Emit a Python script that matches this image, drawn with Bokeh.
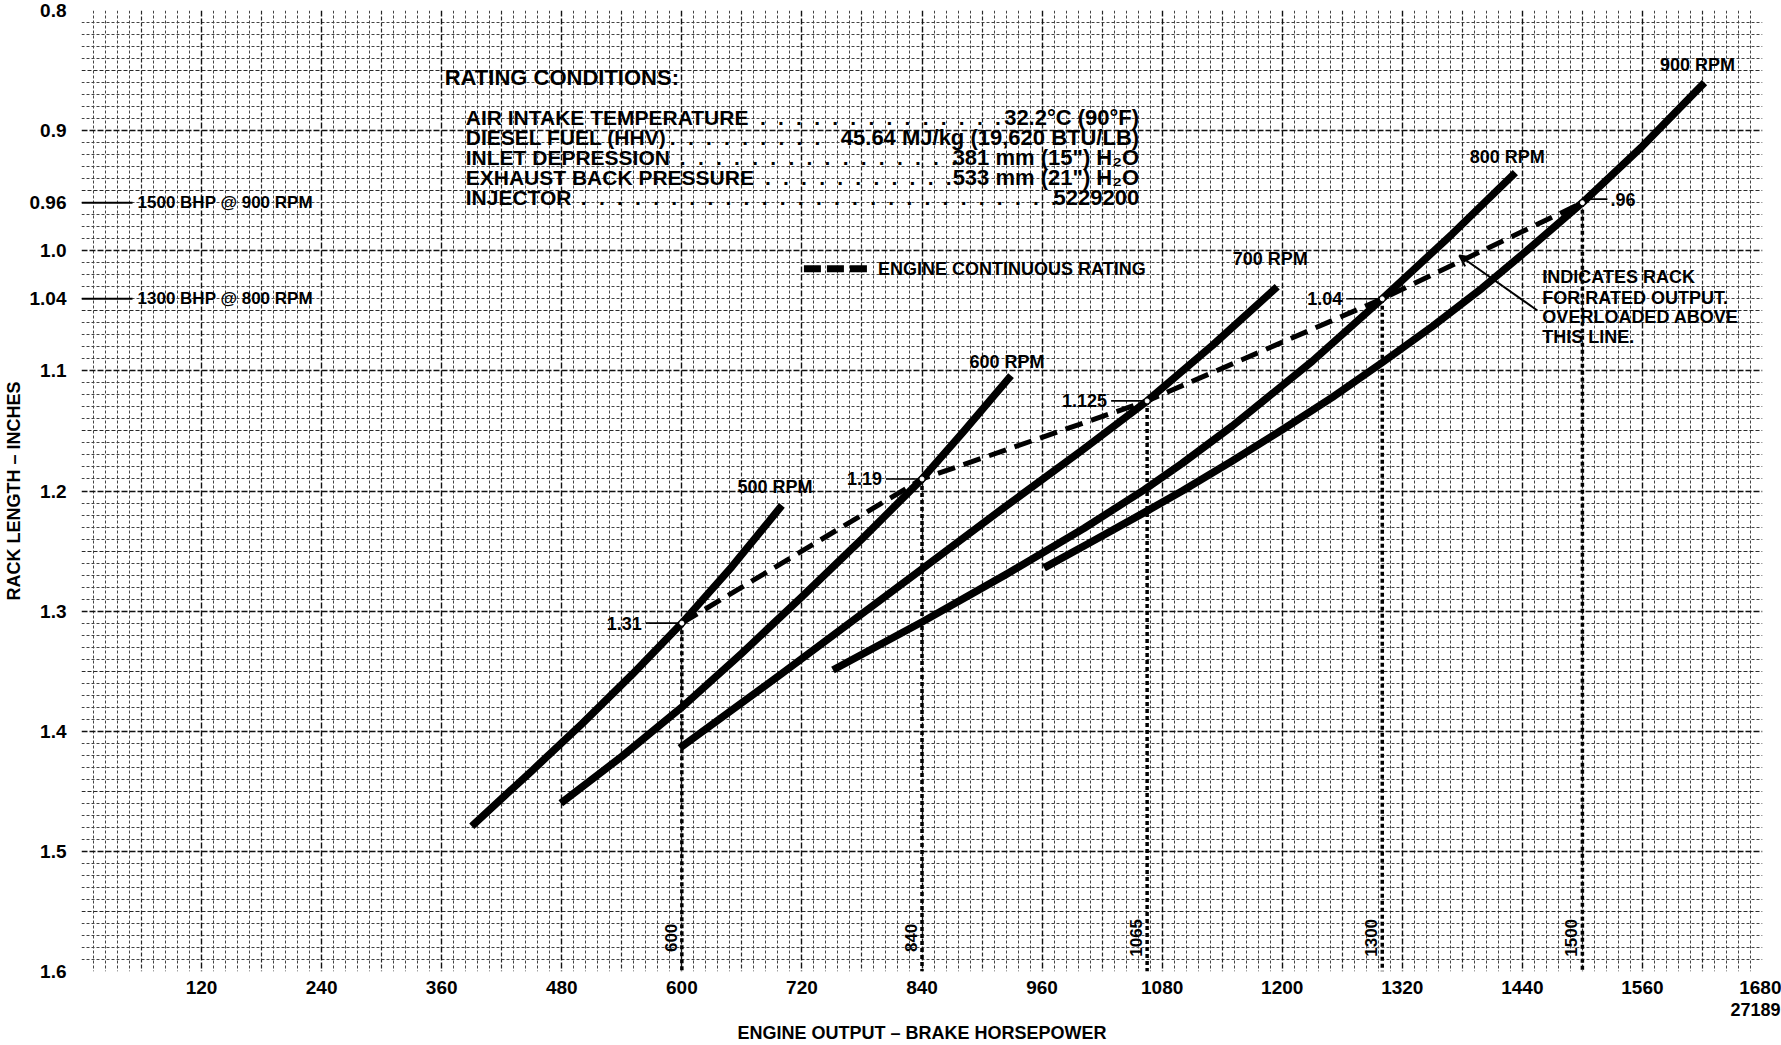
import numpy as np
from bokeh.plotting import figure
from bokeh.models import Range1d, FixedTicker, Grid, Arrow, OpenHead, Title
from bokeh.core.properties import value
from bokeh.embed import file_html
from bokeh.resources import INLINE

FONT = "Liberation Sans"

# ---------------- data ----------------
x_ticks = [120, 240, 360, 480, 600, 720, 840, 960, 1080, 1200, 1320, 1440, 1560, 1680]
y_ticks = [0.8, 0.9, 0.96, 1.0, 1.04, 1.1, 1.2, 1.3, 1.4, 1.5, 1.6]
y_tick_labels = ["0.8", "0.9", "0.96", "1.0", "1.04", "1.1", "1.2", "1.3", "1.4", "1.5", "1.6"]

rpm_names = ["500 RPM", "600 RPM", "700 RPM", "800 RPM", "900 RPM"]

hp_500 = [390, 450, 500, 550, 600, 650, 700]
rack_500 = [1.479, 1.433, 1.394, 1.353, 1.31, 1.263, 1.212]

hp_600 = [479, 540, 600, 660, 720, 780, 840, 882, 929]
rack_600 = [1.46, 1.421, 1.38, 1.335, 1.288, 1.24, 1.19, 1.15, 1.104]

hp_700 = [598, 700, 835, 920, 1000, 1065, 1130, 1195]
rack_700 = [1.414, 1.352, 1.268, 1.215, 1.166, 1.125, 1.079, 1.030]

hp_800 = [751, 840, 925, 1002, 1062, 1100, 1150, 1230, 1300, 1370, 1433]
rack_800 = [1.349, 1.309, 1.269, 1.231, 1.199, 1.177, 1.146, 1.092, 1.04, 0.986, 0.935]

hp_900 = [962, 1010, 1062, 1100, 1150, 1200, 1250, 1300, 1350, 1400, 1450, 1500, 1560, 1622]
rack_900 = [1.264, 1.242, 1.218, 1.20, 1.175, 1.149, 1.122, 1.093, 1.063, 1.031, 0.996, 0.96,
            0.913, 0.860]

rating_hp = [600, 840, 1065, 1300, 1500]
rating_rack = [1.31, 1.19, 1.125, 1.04, 0.96]
rating_rack_labels = ["1.31", "1.19", "1.125", "1.04", ".96"]
rating_hp_labels = ["600", "840", "1065", "1300", "1500"]

conditions_title = "RATING CONDITIONS:"
conditions_names = ["AIR INTAKE TEMPERATURE", "DIESEL FUEL (HHV)", "INLET DEPRESSION",
                    "EXHAUST BACK PRESSURE", "INJECTOR"]
conditions_values = ["32.2°C (90°F)", "45.64 MJ/kg (19,620 BTU/LB)", "381 mm (15\") H₂O",
                     "533 mm (21\") H₂O", "5229200"]

legend_text = "ENGINE CONTINUOUS RATING"
overload_note = ["INDICATES RACK", "FOR RATED OUTPUT.", "OVERLOADED ABOVE", "THIS LINE."]
bhp_notes = ["1500 BHP @ 900 RPM", "1300 BHP @ 800 RPM"]
x_title = "ENGINE OUTPUT \u2013 BRAKE HORSEPOWER"
y_title = "RACK LENGTH \u2013 INCHES"
drawing_no = "27189"

# ---------------- layout (positions in data units) ----------------
rpm_label_x = [693, 925, 1188, 1425, 1615]
rpm_label_y = [1.197, 1.093, 1.007, 0.922, 0.845]
cond_title_pos = (363, 0.856)
cond_left_x = 384
cond_right_x = 1057
cond_rows_y = [0.889, 0.906, 0.922, 0.939, 0.956]
cond_dots_x = [678, 588, 598, 683, 499]
cond_dots_n = [14, 9, 16, 11, 27]
legend_line_x = (722, 790)
legend_y = 1.015
legend_text_x = 796
note_x = 1460
note_y = [1.022, 1.039, 1.055, 1.072]
arrow_from = (1455, 1.0497)
arrow_to = (1377, 1.004)

# ---------------- figure ----------------
p = figure(width=1781, height=1045, x_range=Range1d(0, 1680), y_range=Range1d(1.6, 0.8),
           output_backend="svg", toolbar_location=None,
           min_border_left=77, min_border_right=19, min_border_top=10, min_border_bottom=74)
p.outline_line_color = None
p.background_fill_color = "white"
p.border_fill_color = "white"
p.xgrid.visible = False
p.ygrid.visible = False

# graph-paper grid
xs_all = list(range(0, 1681, 12))
x_minor = [v for v in xs_all if v % 60 != 0]
x_mid = [v for v in xs_all if v % 60 == 0 and v % 120 != 0]
x_major = [v for v in xs_all if v % 120 == 0]
ks = list(range(80, 161))
y_minor = [k / 100 for k in ks if k % 5 != 0]
y_mid = [k / 100 for k in ks if k % 5 == 0 and k % 10 != 0]
y_major = [k / 100 for k in ks if k % 10 == 0]

for ticks, dim, col, lw, dash in [
    (x_minor, 0, "#444444", 1.0, "3 2"), (y_minor, 1, "#444444", 1.0, "3 2"),
    (x_mid, 0, "#2a2a2a", 1.2, "4 2"), (y_mid, 1, "#2a2a2a", 1.2, "4 2"),
    (x_major, 0, "#111111", 1.4, "6 2"), (y_major, 1, "#111111", 1.4, "6 2")]:
    g = Grid(dimension=dim, ticker=FixedTicker(ticks=ticks), grid_line_color=col,
             grid_line_width=lw, grid_line_dash=dash)
    p.add_layout(g)

# axes
for ax in (p.xaxis, p.yaxis):
    ax.axis_line_color = None
    ax.major_tick_line_color = None
    ax.minor_tick_line_color = None
    ax.major_tick_out = 0
    ax.major_tick_in = 0
    ax.minor_tick_out = 0
    ax.major_label_text_font = FONT
    ax.major_label_text_font_size = "19px"
    ax.major_label_text_font_style = "bold"
    ax.major_label_text_color = "black"
p.xaxis.ticker = FixedTicker(ticks=x_ticks)
p.xaxis.major_label_standoff = 9
p.yaxis.ticker = FixedTicker(ticks=y_ticks)
p.yaxis.major_label_overrides = dict(zip(y_ticks, y_tick_labels))
p.yaxis.major_label_standoff = 15
p.yaxis.axis_label = y_title
p.yaxis.axis_label_standoff = 3
p.yaxis.axis_label_text_font = FONT
p.yaxis.axis_label_text_font_size = "18px"
p.yaxis.axis_label_text_font_style = "bold"
p.yaxis.axis_label_text_color = "black"

p.add_layout(Title(text=drawing_no, align="left", offset=1649, standoff=8,
                   text_font=FONT, text_font_size="18px", text_font_style="bold",
                   text_color="black"), "below")
p.add_layout(Title(text=x_title, align="center", standoff=2,
                   text_font=FONT, text_font_size="18px", text_font_style="bold",
                   text_color="black"), "below")


def txt(x, y, s, size, align="left", angle=0.0):
    p.text(x=x, y=y, text=s, text_font=value(FONT), text_font_size=f"{size}px",
           text_font_style="bold", text_align=align, text_baseline="middle",
           angle=angle, text_color="black")


# engine speed curves
for hp, rk in [(hp_500, rack_500), (hp_600, rack_600), (hp_700, rack_700),
               (hp_800, rack_800), (hp_900, rack_900)]:
    p.line(hp, rk, line_width=7.5, line_color="black", line_join="round", line_cap="butt")
txt(rpm_label_x, rpm_label_y, rpm_names, 18, "center")

# dotted drop lines
p.segment(x0=rating_hp, y0=rating_rack, x1=rating_hp, y1=[1.6] * len(rating_hp),
          line_width=3.5, line_color="black", line_dash="4 3")
txt([h - 11 for h in rating_hp], [1.572] * len(rating_hp), rating_hp_labels, 17,
    "center", np.pi / 2)

# continuous rating line
p.line(rating_hp, rating_rack, line_width=5, line_color="black", line_dash="18 9")
p.scatter(rating_hp, rating_rack, size=4, fill_color="white", line_color="white")

# value labels with leaders
lh = rating_hp[:4]
lr = rating_rack[:4]
p.segment(x0=[h - 36 for h in lh], y0=lr, x1=[h - 4 for h in lh], y1=lr,
          line_width=1.6, line_color="black")
txt([h - 40 for h in lh], lr, rating_rack_labels[:4], 18, "right")
rh, rr = rating_hp[4], rating_rack[4] - 0.003
p.segment(x0=[rh + 2], y0=[rr], x1=[rh + 25], y1=[rr], line_width=1.6, line_color="black")
txt([rh + 28], [rr], [rating_rack_labels[4]], 18, "left")

# left-hand notes
note_rack = [rating_rack[4], rating_rack[3]]
p.segment(x0=[0, 0], y0=note_rack, x1=[51, 51], y1=note_rack, line_width=2, line_color="black")
txt([56, 56], note_rack, bhp_notes, 17, "left")

# rating conditions block
txt([cond_title_pos[0]], [cond_title_pos[1]], [conditions_title], 22, "left")
txt([cond_left_x] * 5, cond_rows_y, conditions_names, 21, "left")
txt([cond_right_x] * 5, cond_rows_y, conditions_values, 22, "right")
dot_strings = [("." + "\u2002\u200a") * (n - 1) + "." for n in cond_dots_n]
txt(cond_dots_x, cond_rows_y, dot_strings, 21, "left")

# legend
p.line(list(legend_line_x), [legend_y, legend_y], line_width=7, line_color="black",
       line_dash="17 6")
txt([legend_text_x], [legend_y], [legend_text], 18, "left")

# overload note with arrow
txt([note_x] * 4, note_y, overload_note, 18, "left")
p.add_layout(Arrow(end=OpenHead(size=11, line_width=2, line_color="black"),
                   x_start=arrow_from[0], y_start=arrow_from[1],
                   x_end=arrow_to[0], y_end=arrow_to[1],
                   line_width=2, line_color="black"))

open("out.html", "w").write(file_html(p, INLINE, title="Rack length vs engine output"))
